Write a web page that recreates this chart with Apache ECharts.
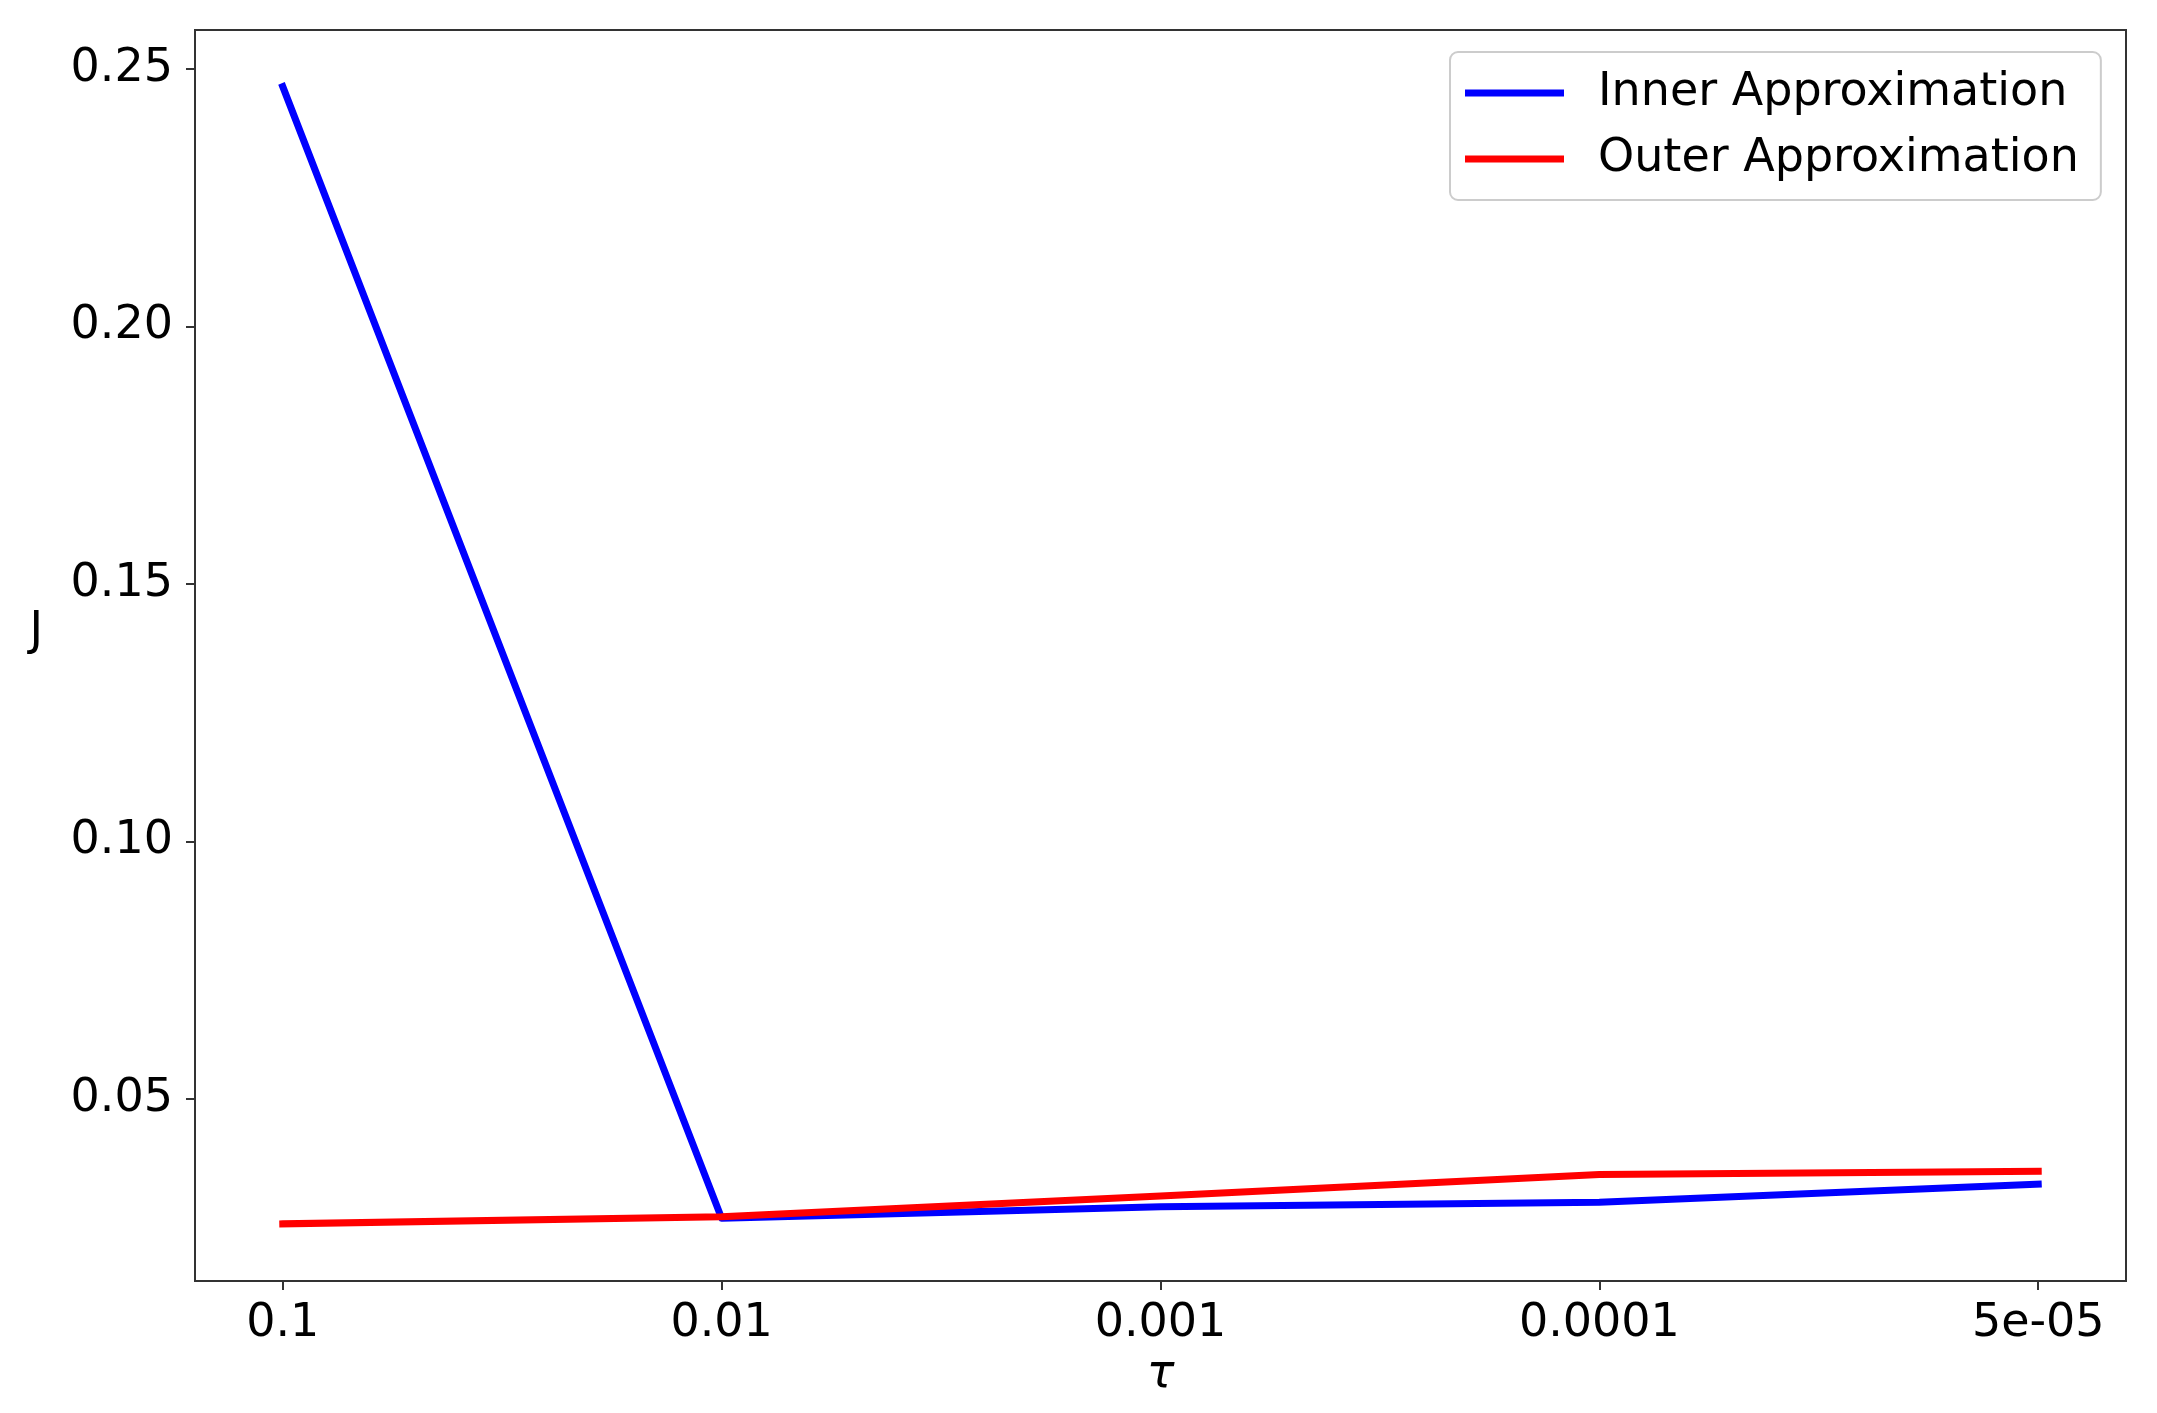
<!DOCTYPE html>
<html>
<head>
<meta charset="utf-8">
<script src="https://cdn.jsdelivr.net/npm/echarts@6/dist/echarts.min.js"></script>
<style>
html,body{margin:0;padding:0;background:#fff;}
#chart{width:2157px;height:1413px;}
</style>
</head>
<body>
<div id="chart"></div>
<script>
const categories = ['0.1', '0.01', '0.001', '0.0001', '5e-05'];
const innerValues = [0.2466, 0.0268, 0.0290, 0.0299, 0.0334];
const outerValues = [0.0257, 0.0271, 0.0311, 0.0353, 0.0359];
const yTicks = [0.05, 0.10, 0.15, 0.20, 0.25];
const xTicks = [0, 1, 2, 3, 4];

const FONT = 'DejaVu Sans';
const chart = echarts.init(document.getElementById('chart'), null, {renderer: 'canvas'});

const toPairs = vals => vals.map((v, i) => [i, v]);

chart.setOption({
  animation: false,
  backgroundColor: '#ffffff',
  grid: {
    left: 195, right: 31, top: 30, bottom: 132,
    show: true, borderColor: '#333333', borderWidth: 2, backgroundColor: 'transparent'
  },
  legend: {
    orient: 'vertical',
    left: 1450, top: 52,
    padding: [18, 22, 18, 15],
    itemWidth: 99, itemHeight: 7, itemGap: 20,
    icon: 'rect',
    borderColor: '#cccccc', borderWidth: 2, borderRadius: 8,
    backgroundColor: 'rgba(255,255,255,0.8)',
    textStyle: {fontFamily: FONT, fontSize: 46, lineHeight: 46, color: '#000', padding: [0, 0, 0, 29]},
    data: ['Inner Approximation', 'Outer Approximation']
  },
  xAxis: {
    type: 'value', min: -0.2, max: 4.2,
    name: 'τ', nameLocation: 'middle', nameGap: 52,
    nameTextStyle: {fontFamily: FONT, fontSize: 46, fontStyle: 'italic', color: '#000'},
    axisLine: {show: true, onZero: false, lineStyle: {color: '#333333', width: 2}},
    axisTick: {show: true, length: 9, customValues: xTicks, lineStyle: {color: '#333333', width: 2}},
    axisLabel: {
      customValues: xTicks, margin: 20,
      fontFamily: FONT, fontSize: 46, color: '#000',
      formatter: v => categories[Math.round(v)]
    },
    splitLine: {show: false}
  },
  yAxis: {
    type: 'value', min: 0.0146, max: 0.2576,
    name: 'J', nameLocation: 'middle', nameGap: 152, nameRotate: 0,
    nameTextStyle: {fontFamily: FONT, fontSize: 46, color: '#000', verticalAlign: 'bottom'},
    axisLine: {show: true, onZero: false, lineStyle: {color: '#333333', width: 2}},
    axisTick: {show: true, length: 9, customValues: yTicks, lineStyle: {color: '#333333', width: 2}},
    axisLabel: {
      customValues: yTicks, margin: 22,
      fontFamily: FONT, fontSize: 46, color: '#000',
      formatter: v => v.toFixed(2)
    },
    splitLine: {show: false}
  },
  series: [
    {
      name: 'Inner Approximation', type: 'line', data: toPairs(innerValues),
      symbol: 'none', color: '#0000ff',
      lineStyle: {color: '#0000ff', width: 7, cap: 'square', join: 'round'}
    },
    {
      name: 'Outer Approximation', type: 'line', data: toPairs(outerValues),
      symbol: 'none', color: '#ff0000',
      lineStyle: {color: '#ff0000', width: 7, cap: 'square', join: 'round'}
    }
  ]
});
</script>
</body>
</html>
